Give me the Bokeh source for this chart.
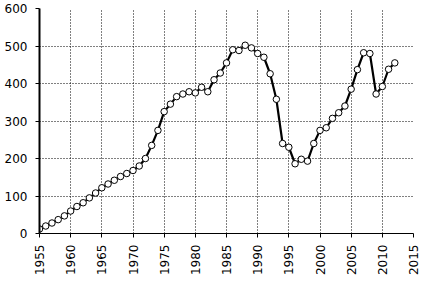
import math
from bokeh.plotting import figure
from bokeh.models import Range1d, FixedTicker
from bokeh.embed import file_html
from bokeh.resources import INLINE

years = list(range(1955, 2013))
values = [12, 20, 28, 37, 47, 60, 72, 82, 95, 108,
          122, 132, 142, 152, 160, 168, 180, 200, 235, 275,
          325, 345, 365, 372, 378, 375, 390, 378, 410, 428,
          455, 490, 488, 502, 495, 480, 470, 426, 358, 240,
          230, 186, 198, 193, 240, 275, 282, 307, 322, 340,
          385, 437, 482, 480, 372, 392, 438, 455]
x_ticks = list(range(1955, 2016, 5))
y_ticks = list(range(0, 601, 100))

p = figure(width=425, height=282, output_backend="svg", toolbar_location=None,
           x_range=Range1d(1955, 2015), y_range=Range1d(0, 600),
           min_border_left=39, min_border_right=12, min_border_top=8, min_border_bottom=49)
p.outline_line_color = None
p.background_fill_color = "white"

p.line(years, values, line_color="black", line_width=2.2)
p.scatter(years, values, size=6.5, fill_color="white", line_color="black", line_width=1)

for ax in (p.xaxis, p.yaxis):
    ax.axis_line_color = "black"
    ax.major_tick_line_color = "black"
    ax.minor_tick_line_color = None
    ax.major_label_text_font = "DejaVu Sans"
    ax.major_label_text_font_size = "12px"
    ax.major_label_text_color = "black"
    ax.major_tick_in = 0
    ax.major_tick_out = 4

p.xaxis.ticker = FixedTicker(ticks=x_ticks)
p.yaxis.ticker = FixedTicker(ticks=y_ticks)
p.xaxis.major_label_orientation = math.pi / 2
p.xaxis.major_label_standoff = 7
p.yaxis.major_label_standoff = 8
p.yaxis.axis_line_width = 2

p.xgrid.ticker = FixedTicker(ticks=x_ticks)
p.ygrid.ticker = FixedTicker(ticks=y_ticks)
for g in (p.xgrid, p.ygrid):
    g.grid_line_color = "black"
    g.grid_line_dash = "1 2"
    g.grid_line_width = 1

open("out.html", "w").write(file_html(p, INLINE))
